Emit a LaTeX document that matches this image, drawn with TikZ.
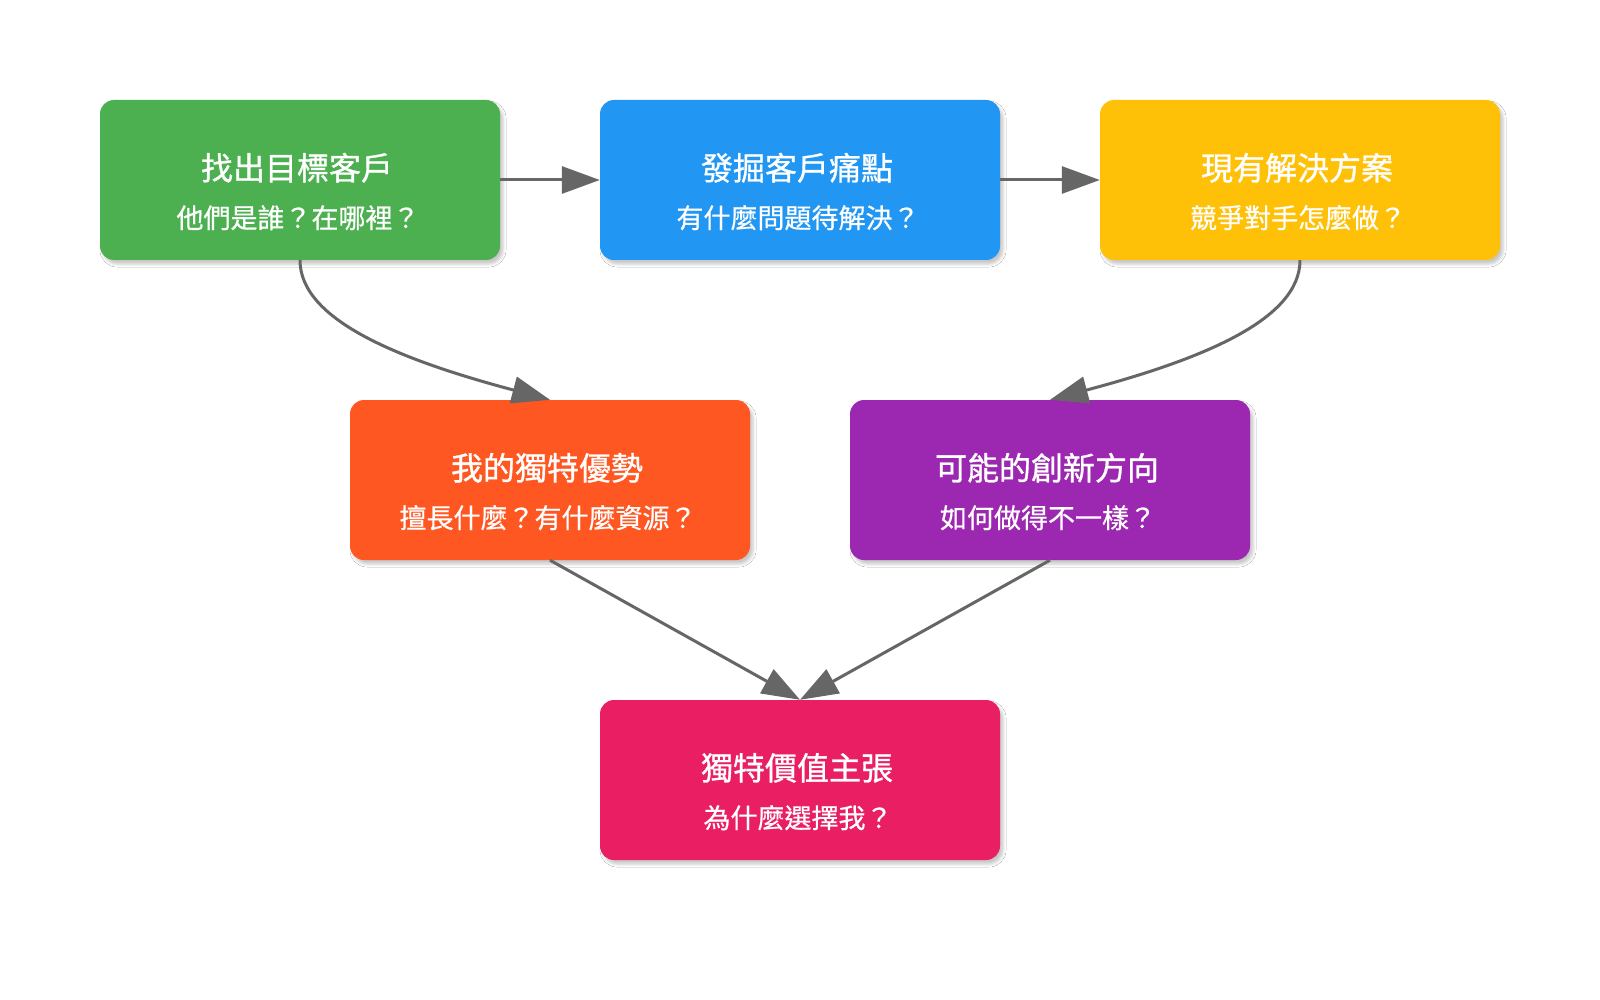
\documentclass[tikz,border=0pt]{standalone}
\usepackage{fontspec}
\setmainfont{Noto Sans CJK TC}
\newfontfamily\ttlfont[FakeBold=1]{Noto Sans CJK TC}
\newfontfamily\subfont[FakeBold=0.6]{Noto Sans CJK TC}
\usetikzlibrary{arrows.meta,shadows.blur}
\definecolor{cgreen}{HTML}{4CAF50}
\definecolor{cblue}{HTML}{2196F3}
\definecolor{cyellow}{HTML}{FFC107}
\definecolor{corange}{HTML}{FF5722}
\definecolor{cpurple}{HTML}{9C27B0}
\definecolor{cpink}{HTML}{E91E63}
\definecolor{cline}{HTML}{666666}
\begin{document}
\begin{tikzpicture}[x=1pt,y=-1pt,
  box/.style={rectangle, rounded corners=14pt, minimum width=400pt, minimum height=160pt,
    inner sep=0pt, draw=none,
    blur shadow={shadow xshift=3pt, shadow yshift=-4pt, shadow blur radius=3pt, shadow opacity=22}},
  ttl/.style={anchor=base, text=white, inner sep=0pt, font=\ttlfont\fontsize{32}{38}\selectfont, xshift=-3pt},
  sub/.style={anchor=base, text=white, inner sep=0pt, font=\subfont\fontsize{27}{32}\selectfont, yshift=-48pt, xshift=-2pt},
  conn/.style={draw=cline, line width=3pt, -{Triangle[length=38pt,width=27pt]}}
]
\fill[white] (0,0) rectangle (1600,1000);
\useasboundingbox (0,0) rectangle (1600,1000);

\node[box, fill=cgreen]  (n1) at (300,180) {};
\node[box, fill=cblue]   (n2) at (800,180) {};
\node[box, fill=cyellow] (n3) at (1300,180) {};
\node[box, fill=corange] (n4) at (550,480) {};
\node[box, fill=cpurple] (n5) at (1050,480) {};
\node[box, fill=cpink]   (n6) at (800,780) {};

\node[ttl] (t1) at (n1.center) {找出目標客戶};
\node[sub] (s1) at (n1.center) {他們是誰？在哪裡？};
\node[ttl] (t2) at (n2.center) {發掘客戶痛點};
\node[sub] (s2) at (n2.center) {有什麼問題待解決？};
\node[ttl] (t3) at (n3.center) {現有解決方案};
\node[sub] (s3) at (n3.center) {競爭對手怎麼做？};
\node[ttl] (t4) at (n4.center) {我的獨特優勢};
\node[sub] (s4) at (n4.center) {擅長什麼？有什麼資源？};
\node[ttl] (t5) at (n5.center) {可能的創新方向};
\node[sub] (s5) at (n5.center) {如何做得不一樣？};
\node[ttl] (t6) at (n6.center) {獨特價值主張};
\node[sub] (s6) at (n6.center) {為什麼選擇我？};

\draw[conn] (n1.east) -- (n2.west);
\draw[conn] (n2.east) -- (n3.west);
\draw[conn] (n1.south) .. controls +(0,60) and +(-150,-40) .. (n4.north);
\draw[conn] (n3.south) .. controls +(0,60) and +(150,-40) .. (n5.north);
\draw[conn] (n4.south) -- (n6.north);
\draw[conn] (n5.south) -- (n6.north);
\end{tikzpicture}
\end{document}
